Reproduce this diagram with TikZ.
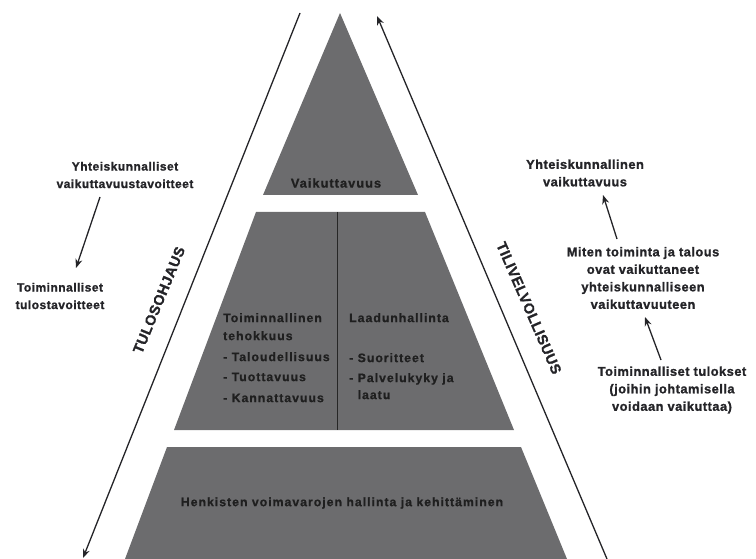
\documentclass[tikz,border=0pt]{standalone}
\usepackage{fontspec}
\setmainfont{Liberation Sans}
\newfontfamily\labfont[LetterSpace=4,BoldFeatures={FakeBold=1.2}]{Liberation Sans}
\newfontfamily\pyrfont[LetterSpace=8,BoldFeatures={FakeBold=0.8}]{Liberation Sans}
\newfontfamily\sidefont[LetterSpace=3,BoldFeatures={FakeBold=1.2}]{Liberation Sans}
\usetikzlibrary{arrows.meta}
\definecolor{pyrgray}{RGB}{108,108,110}
\definecolor{ink}{RGB}{36,36,40}
\begin{document}
\begin{tikzpicture}[x=1pt,y=-1pt,
  block/.style={fill=pyrgray},
  lab/.style={font=\labfont\bfseries\fontsize{12}{17.5}\selectfont, align=center, text=ink, inner sep=0pt},
  labr/.style={font=\labfont\bfseries\fontsize{12.8}{17.5}\selectfont, align=center, text=ink, inner sep=0pt},
  pyr/.style={font=\pyrfont\bfseries\fontsize{12.3}{20}\selectfont, text=black!88, inner sep=0pt},
  side/.style={font=\sidefont\bfseries\fontsize{14.5}{16}\selectfont, text=ink, inner sep=0pt},
  ln/.style={draw=ink, line width=1.3pt},
  arr/.style={ln, -{Stealth[length=9pt,width=7pt]}}
]
\useasboundingbox (0,0) rectangle (756,559);
% pyramid
\path[block] (340,13) -- (418,195) -- (263,195) -- cycle;
\path[block] (256,212) -- (425,212) -- (514,430) -- (174,430) -- cycle;
\path[block] (167,447) -- (521,447) -- (567,559) -- (125,559) -- cycle;
\coordinate (dvtop) at (337,212);
\coordinate (dvbot) at (337,430);
\draw[draw=black!85, line width=0.7pt] (dvtop) -- (dvbot);

% long side arrows
\coordinate (Ltop) at (300,13);
\coordinate (Lbot) at (83,558);
\draw[arr] (Ltop) -- (Lbot);
\coordinate (Rbot) at (607,559);
\coordinate (Rtop) at (377,16);
\draw[arr] (Rbot) -- (Rtop);

\node[side, rotate=67.5] (tulos) at (159,300) {TULOSOHJAUS};
\node[side, rotate=-66.5] (tili) at (529,308) {TILIVELVOLLISUUS};

% pyramid texts
\node[pyr, font=\pyrfont\bfseries\fontsize{12.8}{20}\selectfont] (vaik) at (336,183) {Vaikuttavuus};
\node[pyr, anchor=north west, align=left] (teho) at (223,313)
  {Toiminnallinen\\[-2pt] tehokkuus\\[1pt] - Taloudellisuus\\ - Tuottavuus\\[1pt] - Kannattavuus};
\node[pyr, anchor=north west, align=left] (laatu) at (349,313)
  {Laadunhallinta\\[20pt] - Suoritteet\\ - Palvelukyky ja\\[-3pt] \phantom{- }laatu};
\node[pyr] (henk) at (342,503) {Henkisten voimavarojen hallinta ja kehittäminen};

% left labels
\node[lab] (ytav) at (125,175) {Yhteiskunnalliset\\ vaikuttavuustavoitteet};
\node[lab] (ttav) at (60,296) {Toiminnalliset\\ tulostavoitteet};
\coordinate (la1) at (100,197);
\coordinate (la2) at (76,268);
\draw[arr] (la1) -- (la2);

% right labels
\node[labr] (yvaik) at (585,173) {Yhteiskunnallinen\\ vaikuttavuus};
\node[labr] (miten) at (643,278) {Miten toiminta ja talous\\ ovat vaikuttaneet\\ yhteiskunnalliseen\\ vaikuttavuuteen};
\node[labr] (ttul) at (672,390) {Toiminnalliset tulokset\\ (joihin johtamisella\\ voidaan vaikuttaa)};
\coordinate (ra1) at (617,239);
\coordinate (ra2) at (603,195);
\draw[arr] (ra1) -- (ra2);
\coordinate (rb1) at (661,360);
\coordinate (rb2) at (645,317);
\draw[arr] (rb1) -- (rb2);
\end{tikzpicture}
\end{document}
